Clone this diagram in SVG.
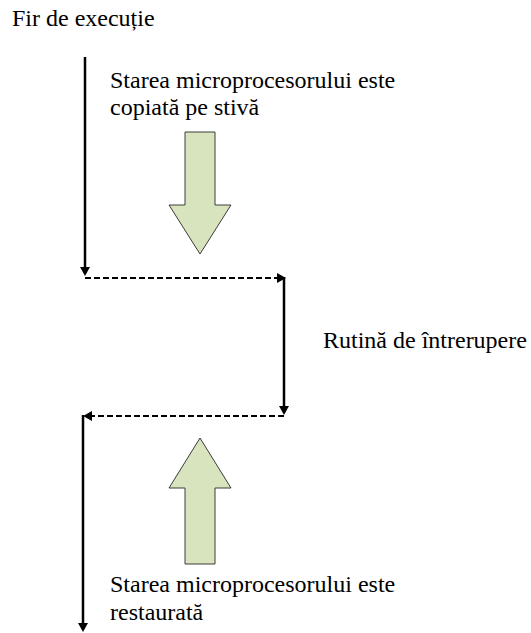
<svg xmlns="http://www.w3.org/2000/svg" width="531" height="633" viewBox="0 0 531 633">
  <style>
    text { font-family: 'Liberation Serif', 'Times New Roman', serif; font-size: 24px; fill: #000; }
    .flow { fill: none; stroke: #000; stroke-width: 2.5; }
    .dash { stroke-width: 2.2; stroke-dasharray: 6 3; }
    .big { fill: #D7E4BD; stroke: #3c3c3c; stroke-width: 1; }
  </style>
  <defs>
    <marker id="head" markerUnits="userSpaceOnUse" markerWidth="9" markerHeight="10" viewBox="0 0 9 10" refX="4" refY="5" orient="auto">
      <path d="M0,0 L9,5 L0,10 z" fill="#000"/>
    </marker>
  </defs>
  <rect width="531" height="633" fill="#fff"/>

  <!-- execution flow: main thread, jump to ISR, return -->
  <g id="connectors">
    <path class="flow" d="M85,57 V271" marker-end="url(#head)"/>
    <path class="flow dash" d="M85,278 H281" marker-end="url(#head)"/>
    <path class="flow" d="M284,277 V410" marker-end="url(#head)"/>
    <path class="flow dash" d="M284,416 H88" marker-end="url(#head)"/>
    <path class="flow" d="M83,415 V627" marker-end="url(#head)"/>
  </g>

  <g id="title">
    <text x="12" y="26">Fir de execuție</text>
  </g>

  <g id="save-state">
    <text x="110" y="88">Starea microprocesorului este</text>
    <text x="110" y="115">copiată pe stivă</text>
    <polygon class="big" points="185,132 215,132 215,205 231,205 200,254 169,205 185,205"/>
  </g>

  <g id="isr">
    <text x="323" y="348">Rutină de întrerupere</text>
  </g>

  <g id="restore-state">
    <polygon class="big" points="200,438 231,488 215,488 215,564 185,564 185,488 169,488"/>
    <text x="110" y="592">Starea microprocesorului este</text>
    <text x="110" y="620">restaurată</text>
  </g>
</svg>
